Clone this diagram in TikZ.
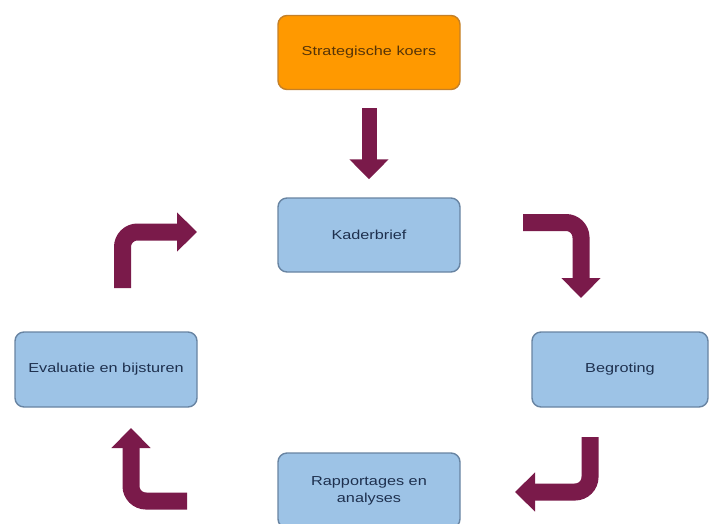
\documentclass[tikz,border=0pt]{standalone}
\usepackage{fontspec}
\newfontfamily\boxfont{Liberation Sans}[FakeStretch=1.25]
\usetikzlibrary{arrows.meta}

\definecolor{koersfill}{RGB}{255,153,0}
\definecolor{koersline}{RGB}{196,128,40}
\definecolor{koerstext}{RGB}{86,52,8}
\definecolor{boxfill}{RGB}{157,195,230}
\definecolor{boxline}{RGB}{104,132,162}
\definecolor{boxtext}{RGB}{30,48,78}
\definecolor{maroon}{RGB}{122,26,74}

\begin{document}
\begin{tikzpicture}[x=1pt, y=-1pt,
  box/.style={draw=boxline, fill=boxfill, line width=1.4pt, rounded corners=9pt,
    minimum width=182pt, minimum height=74pt, text=boxtext, align=center,
    font=\boxfont\fontsize{13}{17}\selectfont},
  flow/.style={draw=maroon, line width=17pt, rounded corners=15pt,
    -{Triangle[width=38pt, length=20pt]}}]

\useasboundingbox (0,0) rectangle (709,523);

% boxes
\node[box, fill=koersfill, draw=koersline, text=koerstext] (koers) at (369,52.5) {Strategische koers};
\node[box] (kader) at (369,235) {Kaderbrief};
\node[box, minimum width=176pt, minimum height=75pt] (begroting) at (620,369.5) {Begroting};
\node[box, minimum height=75pt] (rapport) at (369,490.5) {Rapportages en\\analyses};
\node[box, minimum height=75pt] (evaluatie) at (106,369.5) {Evaluatie en bijsturen};

% arrow ends
\coordinate (tr-a) at (523,222.5);
\coordinate (tr-b) at (581,222.5);
\coordinate (tr-c) at (581,298);
\coordinate (br-a) at (590,437);
\coordinate (br-b) at (590,492);
\coordinate (br-c) at (515,492);
\coordinate (bl-a) at (187,501);
\coordinate (bl-b) at (131,501);
\coordinate (bl-c) at (131,428);
\coordinate (tl-a) at (122.5,288);
\coordinate (tl-b) at (122.5,232);
\coordinate (tl-c) at (197,232);

% arrows
\draw[flow, line width=15pt] ([yshift=-18pt]koers.south) -- ([yshift=18pt]kader.north);
\draw[flow] (tr-a) -- (tr-b) -- (tr-c);
\draw[flow] (br-a) -- (br-b) -- (br-c);
\draw[flow] (bl-a) -- (bl-b) -- (bl-c);
\draw[flow] (tl-a) -- (tl-b) -- (tl-c);

\end{tikzpicture}
\end{document}
